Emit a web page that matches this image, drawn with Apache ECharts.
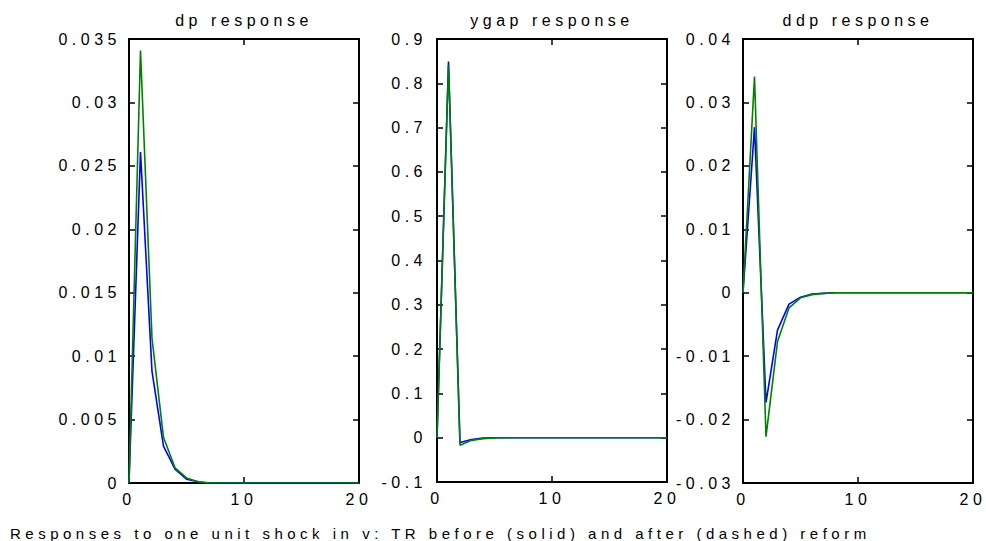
<!DOCTYPE html>
<html>
<head>
<meta charset="utf-8">
<script src="https://cdn.jsdelivr.net/npm/echarts@6/dist/echarts.min.js"></script>
<style>
  html, body { margin: 0; padding: 0; background: #fff; }
  #chart { width: 986px; height: 541px; }
  /* the reference uses widely letter-spaced text everywhere */
  #chart text { letter-spacing: 4.5px; }
</style>
</head>
<body>
<div id="chart"></div>
<script>
// horizon (periods after the shock)
const steps = [0, 1, 2, 3, 4, 5, 6, 7, 8, 9, 10, 11, 12, 13, 14, 15, 16, 17, 18, 19, 20];

// dp response
const dpBefore = [0, 0.0261, 0.0088, 0.0029, 0.0011, 0.0003, 0.0001, 0, 0, 0, 0, 0, 0, 0, 0, 0, 0, 0, 0, 0, 0];
const dpAfter = [0, 0.0341, 0.0114, 0.0036, 0.0012, 0.0004, 0.0001, 0, 0, 0, 0, 0, 0, 0, 0, 0, 0, 0, 0, 0, 0];

// ygap response
const ygapBefore = [0, 0.849, -0.011, -0.004, -0.001, 0, 0, 0, 0, 0, 0, 0, 0, 0, 0, 0, 0, 0, 0, 0, 0];
const ygapAfter = [0, 0.840, -0.017, -0.006, -0.002, -0.0005, 0, 0, 0, 0, 0, 0, 0, 0, 0, 0, 0, 0, 0, 0, 0];

// ddp response
const ddpBefore = [0, 0.0261, -0.0173, -0.0059, -0.0018, -0.0007, -0.0002, -0.0001, 0, 0, 0, 0, 0, 0, 0, 0, 0, 0, 0, 0, 0];
const ddpAfter = [0, 0.0341, -0.0227, -0.0077, -0.0024, -0.0008, -0.0003, -0.0001, 0, 0, 0, 0, 0, 0, 0, 0, 0, 0, 0, 0, 0];

const panelTitles = ['dp response', 'ygap response', 'ddp response'];
const caption = 'Responses to one unit shock in v: TR before (solid) and after (dashed) reform';

const panels = [
  { title: panelTitles[0], before: dpBefore, after: dpAfter, min: 0, max: 0.035, interval: 0.005, left: 129, height: 444, margin: 8 },
  { title: panelTitles[1], before: ygapBefore, after: ygapAfter, min: -0.1, max: 0.9, interval: 0.1, left: 437, height: 443, margin: 10 },
  { title: panelTitles[2], before: ddpBefore, after: ddpAfter, min: -0.03, max: 0.04, interval: 0.01, left: 743, height: 444, margin: 8 }
];

const FONT = '"Liberation Sans", Arial, sans-serif';
const INK = '#000';
const frameLine = { show: true, onZero: false, lineStyle: { color: '#000', width: 2 } };
const innerTick = { show: true, inside: true, length: 6, lineStyle: { color: '#000', width: 1.5 } };

function toPairs(values) {
  return steps.map((x, k) => [x, values[k]]);
}

const chart = echarts.init(document.getElementById('chart'), null, { renderer: 'svg' });

const option = {
  animation: false,
  backgroundColor: '#fff',
  title: panels.map(p => ({
    text: p.title,
    left: p.left + 110,
    top: 7,
    textAlign: 'center',
    textStyle: { fontFamily: FONT, fontSize: 16, fontWeight: 'normal', color: INK }
  })).concat([{
    text: caption,
    left: 5,
    top: 521,
    textStyle: { fontFamily: FONT, fontSize: 15, fontWeight: 'normal', color: INK }
  }]),
  grid: panels.map(p => ({ left: p.left, top: 39, width: 230, height: p.height })),
  xAxis: [],
  yAxis: [],
  series: []
};

panels.forEach((p, i) => {
  // bottom + top axes form the horizontal frame
  option.xAxis.push({
    gridIndex: i, type: 'value', min: 0, max: 20, interval: 10,
    axisLine: frameLine, axisTick: innerTick, splitLine: { show: false },
    axisLabel: { margin: 8, fontFamily: FONT, fontSize: 16, color: INK }
  });
  option.xAxis.push({
    gridIndex: i, type: 'value', position: 'top', min: 0, max: 20, interval: 10,
    axisLine: frameLine, axisTick: innerTick, splitLine: { show: false },
    axisLabel: { show: false }
  });
  // left + right axes form the vertical frame
  option.yAxis.push({
    gridIndex: i, type: 'value', min: p.min, max: p.max, interval: p.interval,
    axisLine: frameLine, axisTick: innerTick, splitLine: { show: false },
    axisLabel: { margin: p.margin, fontFamily: FONT, fontSize: 16, color: INK }
  });
  option.yAxis.push({
    gridIndex: i, type: 'value', position: 'right', min: p.min, max: p.max, interval: p.interval,
    axisLine: frameLine, axisTick: innerTick, splitLine: { show: false },
    axisLabel: { show: false }
  });

  option.series.push({
    type: 'line', xAxisIndex: 2 * i, yAxisIndex: 2 * i,
    data: toPairs(p.before), showSymbol: false, silent: true,
    lineStyle: { color: '#0000ff', width: 1.6 }, itemStyle: { color: '#0000ff' }
  });
  option.series.push({
    type: 'line', xAxisIndex: 2 * i, yAxisIndex: 2 * i,
    data: toPairs(p.after), showSymbol: false, silent: true,
    lineStyle: { color: '#008000', width: 1.6 }, itemStyle: { color: '#008000' }
  });
});

chart.setOption(option);
</script>
</body>
</html>
